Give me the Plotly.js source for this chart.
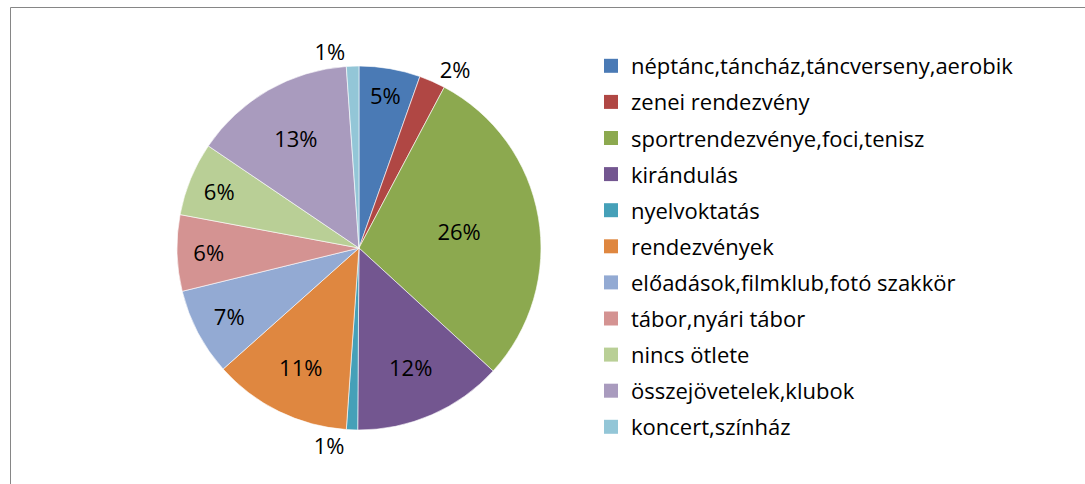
<!DOCTYPE html>
<html>
<head>
<meta charset="utf-8">
<script src="https://cdn.plot.ly/plotly-3.0.1.min.js"></script>
<style>
  html, body { margin: 0; padding: 0; background: #ffffff; }
  #chart { width: 1085px; height: 484px; }
</style>
</head>
<body>
<div id="chart"></div>
<script>
const categories = [
  "néptánc,táncház,táncverseny,aerobik",
  "zenei rendezvény",
  "sportrendezvénye,foci,tenisz",
  "kirándulás",
  "nyelvoktatás",
  "rendezvények",
  "előadások,filmklub,fotó szakkör",
  "tábor,nyári tábor",
  "nincs ötlete",
  "összejövetelek,klubok",
  "koncert,színház"
];
const values = [4.9, 2.1, 26.2, 12.0, 0.9, 11.1, 7.0, 6.1, 5.9, 13.0, 1.0];
const colors = ["#4A7AB5", "#B04744", "#8CA94F", "#735690", "#45A0B8", "#DF8740",
                "#93AAD3", "#D49392", "#B9CF96", "#A99BBE", "#93C6D7"];
const labelPositions = ["inside", "outside", "inside", "inside", "outside", "inside",
                        "inside", "inside", "inside", "inside", "outside"];

const FONT = "'Open Sans', 'Liberation Sans', sans-serif";

const pie = {
  type: "pie",
  labels: categories,
  values: values,
  sort: false,
  direction: "clockwise",
  rotation: 0,
  marker: { colors: colors, line: { color: "#ffffff", width: 0.6 } },
  texttemplate: "%{value:.0f}%",
  textposition: labelPositions,
  insidetextorientation: "horizontal",
  textfont: { family: FONT, size: 22, color: "#000000" },
  outsidetextfont: { family: FONT, size: 22, color: "#000000" },
  insidetextfont: { family: FONT, size: 22, color: "#000000" },
  domain: { x: [0.1631, 0.4986], y: [0.1116, 0.8636] },
  showlegend: false,
  hoverinfo: "label+percent"
};

const legendTraces = categories.map((c, i) => ({
  type: "scatter",
  mode: "markers",
  x: [null], y: [null],
  name: c,
  legendgroup: "g" + i,
  marker: { symbol: "square", size: 14, color: colors[i] },
  showlegend: true,
  hoverinfo: "skip"
}));

const layout = {
  width: 1085,
  height: 484,
  margin: { l: 0, r: 0, t: 0, b: 0 },
  paper_bgcolor: "#ffffff",
  plot_bgcolor: "#ffffff",
  font: { family: FONT, color: "#000000" },
  xaxis: { visible: false },
  yaxis: { visible: false },
  showlegend: true,
  legend: {
    x: 591 / 1085, xanchor: "left",
    y: 1 - 45 / 484, yanchor: "top",
    font: { family: FONT, size: 22, color: "#000000" },
    tracegroupgap: 4.5,
    itemclick: false,
    bgcolor: "rgba(0,0,0,0)"
  },
  shapes: [
    { type: "line", xref: "paper", yref: "paper",
      x0: 10.5 / 1085, x1: 10.5 / 1085, y0: 1 - 7.5 / 484, y1: -0.05,
      line: { color: "#868686", width: 1 } },
    { type: "line", xref: "paper", yref: "paper",
      x0: 10.5 / 1085, x1: 1.05, y0: 1 - 7.5 / 484, y1: 1 - 7.5 / 484,
      line: { color: "#868686", width: 1 } }
  ]
};

Plotly.newPlot("chart", [pie].concat(legendTraces), layout, { displayModeBar: false, staticPlot: true });
</script>
</body>
</html>
